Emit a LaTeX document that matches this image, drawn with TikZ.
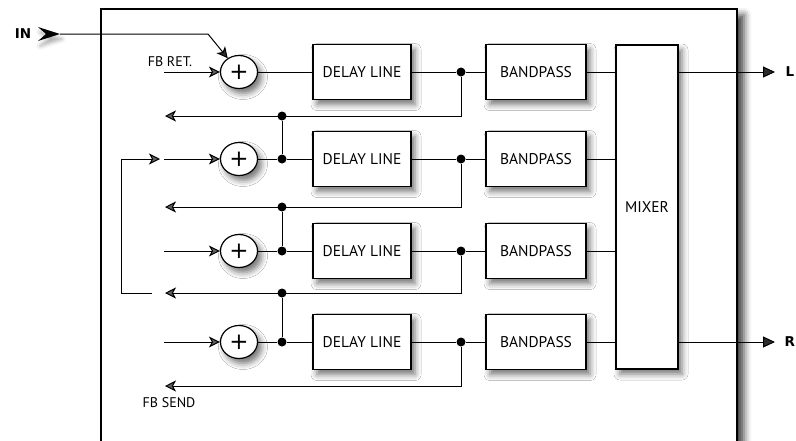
\documentclass[tikz,border=0pt]{standalone}
\usepackage{fontspec}
\setmainfont{PT Sans}
\newfontfamily\heavyfont{DejaVu Sans}
\usetikzlibrary{positioning, arrows.meta, shapes.geometric, shadows.blur}
\tikzset{
    >={Stealth[length=11pt, width=11pt, inset=3pt]}, % notched heads on the signal lines
    soft/.style={blur shadow={shadow xshift=4pt, shadow yshift=-5pt, shadow blur radius=6pt, shadow opacity=55}}, % soft shadow under boxes
    block/.style={draw, line width=1.2pt, fill=white, minimum width=98pt, minimum height=55pt, font=\fontsize{15.5}{17}\selectfont, soft},
    adder/.style={draw, ellipse, line width=1.2pt, fill=white, minimum width=37pt, minimum height=33pt, inner sep=0pt, font=\heavyfont\fontsize{23}{23}\selectfont, soft},
    dot/.style={circle, fill, inner sep=0pt, minimum size=9pt}, % junctions
    lbl/.style={font=\fontsize{14}{16}\selectfont},
    io/.style={font=\heavyfont\bfseries\fontsize{13.5}{15}\selectfont, inner sep=0pt},
    outarrow/.style={-{Triangle[length=12pt, width=11pt]}}, % solid heads on the outputs
}

\begin{document}
\begin{tikzpicture}[x=1pt, y=-1pt, line width=1pt]
    \clip (0,0) rectangle (796,440);
    % housing
    \draw[line width=1.8pt, fill=white, blur shadow={shadow xshift=7pt, shadow yshift=-6pt, shadow blur radius=7pt, shadow opacity=75}] (101,9) rectangle (737,480);

    % the four channels
    \node[adder] (a1) at (239,72) {+};
    \node[adder] (a2) at (239,159) {+};
    \node[adder] (a3) at (239,251) {+};
    \node[adder] (a4) at (239,342) {+};
    \node[dot, node distance=43pt, right of=a2] (j2) {};
    \node[dot, node distance=43pt, right of=a3] (j3) {};
    \node[dot, node distance=43pt, right of=a4] (j4) {};
    \node[block, node distance=123pt, right of=a1] (d1) {DELAY LINE};
    \node[block, node distance=80pt, right of=j2] (d2) {DELAY LINE};
    \node[block, node distance=80pt, right of=j3] (d3) {DELAY LINE};
    \node[block, node distance=80pt, right of=j4] (d4) {DELAY LINE};
    \node[dot, node distance=99pt, right of=d1] (t1) {};
    \node[dot, node distance=99pt, right of=d2] (t2) {};
    \node[dot, node distance=99pt, right of=d3] (t3) {};
    \node[dot, node distance=99pt, right of=d4] (t4) {};
    \node[block, node distance=75pt, right of=t1, minimum width=100pt] (b1) {BANDPASS};
    \node[block, node distance=75pt, right of=t2, minimum width=100pt] (b2) {BANDPASS};
    \node[block, node distance=75pt, right of=t3, minimum width=100pt] (b3) {BANDPASS};
    \node[block, node distance=75pt, right of=t4, minimum width=100pt] (b4) {BANDPASS};
    \node[block, minimum width=62pt, minimum height=324pt] (mix) at (647,207) {MIXER};

    % feedback ends and inputs
    \coordinate (fb1) at (165,116);
    \coordinate (fb2) at (165,207);
    \coordinate (fb3) at (165,293);
    \coordinate (fb4) at (165,386);
    \node[dot] (f1) at (j2 |- fb1) {};
    \node[dot] (f2) at (j3 |- fb2) {};
    \node[dot] (f3) at (j4 |- fb3) {};
    \coordinate (ret) at (164,72);
    \coordinate (s2) at (164,159);
    \coordinate (s3) at (164,251);
    \coordinate (s4) at (164,342);
    \coordinate (lp) at (152,293);
    \coordinate (lq) at (160,159);

    % signal flow
    \draw (a1) -- (d1) -- (t1) -- (b1) -- (b1 -| mix.west);
    \draw (a2) -- (j2) -- (d2) -- (t2) -- (b2) -- (b2 -| mix.west);
    \draw (a3) -- (j3) -- (d3) -- (t3) -- (b3) -- (b3 -| mix.west);
    \draw (a4) -- (j4) -- (d4) -- (t4) -- (b4) -- (b4 -| mix.west);
    \draw[->] (t1) |- (fb1);
    \draw[->] (t2) |- (fb2);
    \draw[->] (t3) |- (fb3);
    \draw[->] (t4) |- (fb4);
    \draw (f1) -- (j2);
    \draw (f2) -- (j3);
    \draw (f3) -- (j4);
    \draw[->] (ret) -- (a1);
    \draw[->] (s2) -- (a2);
    \draw[->] (s3) -- (a3);
    \draw[->] (s4) -- (a4);
    \draw[->] (lp) -- ++(-31,0) |- (lq);

    % input
    \node[io] (inlbl) at (23,34) {IN};
    \coordinate (in) at (60,34);
    \fill[blur shadow={shadow xshift=2pt, shadow yshift=-5pt, shadow blur radius=4pt, shadow opacity=35}] (38,27) -- (in) -- (38,41) -- (46,34) -- cycle;
    \draw[->] (in) -- ++(148,0) -- (a1);

    % outputs
    \node[io, anchor=west] (lout) at (785,72) {L};
    \node[io, anchor=west] (rout) at (784,342) {R};
    \draw[outarrow] (mix.east |- lout) -- ([xshift=-10pt]lout.west);
    \draw[outarrow] (mix.east |- rout) -- ([xshift=-9pt]rout.west);

    \node[lbl] (retlbl) at (170,62) {FB RET.};
    \node[lbl] (sendlbl) at (169,403) {FB SEND};
\end{tikzpicture}
\end{document}
